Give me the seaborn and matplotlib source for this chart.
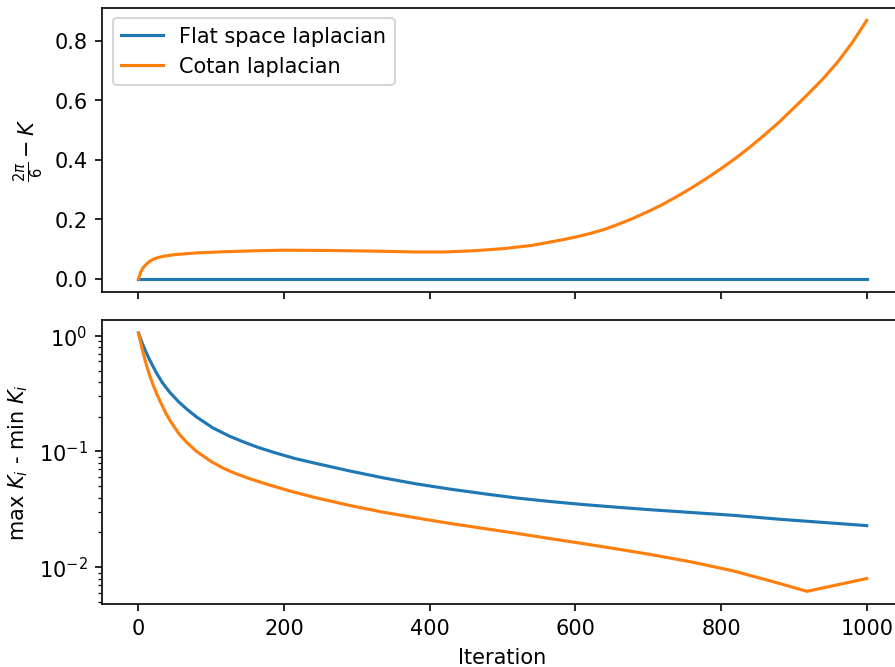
import pandas as pd
import numpy as np
import seaborn as sns
import matplotlib
matplotlib.use("Agg")
import matplotlib.pyplot as plt

# top panel: 2pi/6 - K
flat_top_iter = [0, 250, 500, 750, 1000]
flat_top_val = [0.0, 0.0, 0.0, 0.0, 0.0]

cotan_top_iter = [0, 3, 6, 10, 15, 20, 25, 35, 50, 80, 120, 160, 200, 260, 320, 380,
                  420, 460, 500, 540, 580, 600, 620, 640, 660, 680, 700, 720, 740,
                  760, 780, 800, 820, 840, 860, 880, 900, 920, 940, 960, 980, 1000]
cotan_top_val = [0.0, 0.022, 0.036, 0.047, 0.058, 0.065, 0.070, 0.076, 0.081, 0.087,
                 0.091, 0.094, 0.096, 0.095, 0.093, 0.090, 0.090, 0.094, 0.101, 0.112,
                 0.130, 0.140, 0.152, 0.166, 0.184, 0.204, 0.226, 0.250, 0.277, 0.306,
                 0.337, 0.370, 0.405, 0.443, 0.484, 0.527, 0.574, 0.622, 0.672, 0.728,
                 0.793, 0.868]

# bottom panel: max K_i - min K_i
flat_bot_iter = [0, 5, 10, 15, 24, 33, 43, 55, 66, 80, 102, 125, 144, 165, 190, 215,
                 244, 290, 336, 380, 428, 475, 520, 565, 611, 660, 703, 760, 817, 880,
                 940, 1000]
flat_bot_val = [1.054, 0.865, 0.728, 0.624, 0.484, 0.391, 0.324, 0.269, 0.233, 0.198,
                0.160, 0.1355, 0.121, 0.108, 0.0964, 0.0869, 0.0788, 0.0679, 0.0592,
                0.0527, 0.0473, 0.0431, 0.0396, 0.0370, 0.0348, 0.0329, 0.0314, 0.0297,
                0.0281, 0.0260, 0.0244, 0.0229]

cotan_bot_iter = [0, 5, 10, 15, 20, 25, 30, 38, 45, 56, 65, 79, 100, 116, 133, 153,
                  180, 210, 244, 290, 336, 380, 428, 475, 520, 565, 611, 660, 703, 760,
                  817, 872, 918, 1000]
cotan_bot_val = [1.054, 0.767, 0.582, 0.460, 0.376, 0.315, 0.269, 0.211, 0.178, 0.141,
                 0.122, 0.101, 0.0817, 0.0719, 0.0646, 0.0581, 0.0513, 0.0452, 0.0398,
                 0.0342, 0.0299, 0.0268, 0.0239, 0.0216, 0.0196, 0.0177, 0.0160, 0.0143,
                 0.0129, 0.0111, 0.0093, 0.0075, 0.0062, 0.0080]

labels = ["Flat space laplacian", "Cotan laplacian"]


def to_frame(iters, vals, label):
    return pd.DataFrame({"Iteration": iters, "value": vals, "method": label})


top_df = pd.concat([to_frame(flat_top_iter, flat_top_val, labels[0]),
                    to_frame(cotan_top_iter, cotan_top_val, labels[1])])
bot_df = pd.concat([to_frame(flat_bot_iter, flat_bot_val, labels[0]),
                    to_frame(cotan_bot_iter, cotan_bot_val, labels[1])])

palette = {labels[0]: "#1f77b4", labels[1]: "#ff7f0e"}

fig, (ax1, ax2) = plt.subplots(2, 1, sharex=True, figsize=(5.97, 4.45), dpi=150)
# the right spine sits just outside the saved picture in the reference
fig.subplots_adjust(left=0.114, right=1.0085, top=0.988, bottom=0.094, hspace=0.1)

sns.lineplot(data=top_df, x="Iteration", y="value", hue="method", palette=palette,
             ax=ax1, linewidth=1.5)
ax1.set_ylabel(r"$\frac{2\pi}{6} - K$")
ax1.set_xlabel("")
ax1.legend(loc="upper left")

sns.lineplot(data=bot_df, x="Iteration", y="value", hue="method", palette=palette,
             ax=ax2, linewidth=1.5, legend=False)
ax2.set_yscale("log")
ax2.set_ylabel(r"max $K_i$ - min $K_i$")
ax2.set_xlabel("Iteration")

fig.savefig("out.png", dpi=150)
